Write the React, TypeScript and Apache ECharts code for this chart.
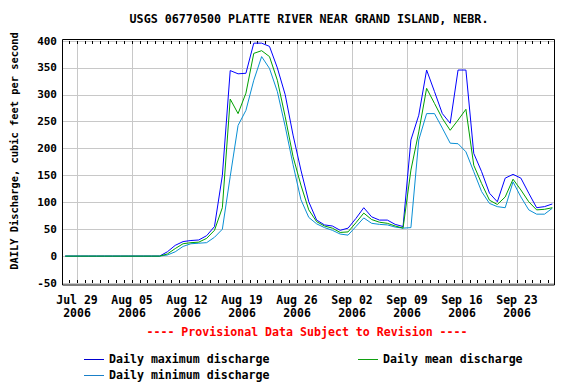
import React, { useEffect, useRef } from "react";
import * as echarts from "echarts";

// Daily values, Jul 27 2006 .. Sep 27 2006 (63 days), plotted at noon of each day.
const firstDayOffset = -2; // Jul 27 relative to Jul 29
const titleText = "USGS 06770500 PLATTE RIVER NEAR GRAND ISLAND, NEBR.";
const yAxisName = "DAILY Discharge, cubic feet per second";
const provisionalText = "---- Provisional Data Subject to Revision ----";

const maxDischarge = [
  0, 0, 0, 0, 0, 0, 0, 0, 0, 0, 0, 0, 0,
  8, 20, 27, 29, 30, 38, 55, 150, 345, 339, 340, 396, 396, 390, 350, 300, 225, 160, 101, 67, 58, 56, 48,
  52, 70, 90, 73, 67, 67, 59, 55, 216, 262, 346, 306, 265, 247, 346, 346, 191, 157, 117, 101, 145, 152, 145, 117, 90, 92, 97,
];
const meanDischarge = [
  0, 0, 0, 0, 0, 0, 0, 0, 0, 0, 0, 0, 0,
  4, 14, 23, 25, 26, 33, 48, 90, 292, 265, 303, 377, 382, 371, 327, 259, 185, 132, 86, 64, 56, 52, 44,
  45, 62, 80, 68, 63, 61, 56, 52, 160, 231, 312, 284, 256, 234, 253, 273, 169, 135, 104, 96, 110, 143, 123, 101, 86, 87, 90,
];
const minDischarge = [
  0, 0, 0, 0, 0, 0, 0, 0, 0, 0, 0, 0, 0,
  2, 8, 18, 23, 24, 25, 35, 50, 148, 243, 271, 327, 371, 349, 306, 241, 170, 105, 72, 60, 53, 48, 41,
  39, 55, 71, 61, 59, 58, 54, 52, 53, 216, 265, 265, 238, 210, 209, 194, 157, 120, 98, 92, 90, 138, 110, 86, 78, 78, 89,
];

const xTickDays = [0, 7, 14, 21, 28, 35, 42, 49, 56];
const xTickLabels = [
  "Jul 29\n2006", "Aug 05\n2006", "Aug 12\n2006", "Aug 19\n2006", "Aug 26\n2006",
  "Sep 02\n2006", "Sep 09\n2006", "Sep 16\n2006", "Sep 23\n2006",
];
const dailyTickDays = Array.from({ length: 62 }, (_, i) => i - 1);

const seriesNames = ["Daily maximum discharge", "Daily mean discharge", "Daily minimum discharge"];
const seriesColors = ["#0000ff", "#00a000", "#0a8fd4"];
const legendColors = ["#0000d0", "#10a010", "#1a80c8"];

const FONT = "DejaVu Sans Mono";

export default function App() {
  const ref = useRef<HTMLDivElement>(null);
  useEffect(() => {
    if (!ref.current) return;
    const chart = echarts.init(ref.current, null, { renderer: "svg" });
    const toPts = (arr: number[]) => arr.map((v, i) => [i + firstDayOffset + 0.5, v]);
    const xMin = -1.91;
    const xMax = 60.84;
    const hiddenAxisBase = {
      type: "value" as const,
      min: xMin,
      max: xMax,
      axisLine: { show: false },
      axisLabel: { show: false },
      splitLine: { show: false },
      axisTick: {
        show: true,
        inside: true,
        length: 3,
        customValues: dailyTickDays,
        lineStyle: { color: "#000", width: 1 },
      },
    };
    chart.setOption({
      animation: false,
      backgroundColor: "#ffffff",
      grid: { left: 62, right: 21, top: 41, bottom: 101 },
      xAxis: [
        {
          type: "value",
          min: xMin,
          max: xMax,
          position: "bottom",
          axisLine: { show: false },
          axisTick: { show: false, customValues: xTickDays },
          axisLabel: {
            customValues: xTickDays,
            formatter: (v: number) => xTickLabels[xTickDays.indexOf(Math.round(v))] ?? "",
            fontFamily: FONT,
            fontWeight: "bold",
            fontSize: 11.5,
            lineHeight: 13,
            color: "#000",
            margin: 10,
          },
          splitLine: { show: true, lineStyle: { color: "#c8c8c8", width: 1 } },
        },
        { ...hiddenAxisBase, position: "bottom" },
        { ...hiddenAxisBase, position: "top" },
      ],
      yAxis: {
        type: "value",
        min: -50,
        max: 400,
        interval: 50,
        axisLine: { show: false },
        axisTick: { show: false },
        axisLabel: {
          fontFamily: FONT,
          fontWeight: "bold",
          fontSize: 11,
          color: "#000",
          margin: 5,
        },
        splitLine: { show: true, lineStyle: { color: "#c8c8c8", width: 1 } },
      },
      series: [maxDischarge, meanDischarge, minDischarge].map((arr, k) => ({
        name: seriesNames[k],
        type: "line",
        data: toPts(arr),
        showSymbol: false,
        symbol: "none",
        lineStyle: { color: seriesColors[k], width: 1 },
        itemStyle: { color: seriesColors[k] },
        z: 3 + (k === 1 ? 1 : 0),
      })),
      graphic: [
        {
          type: "rect",
          shape: { x: 62.5, y: 39.5, width: 492, height: 245.5 },
          style: { fill: "none", stroke: "#000", lineWidth: 1 },
          z: 100,
        },
        {
          type: "text",
          x: 309,
          y: 19,
          style: {
            text: titleText,
            fontFamily: FONT,
            fontWeight: "bold",
            fontSize: 11.7,
            fill: "#000",
            align: "center",
            verticalAlign: "middle",
          },
        },
        {
          type: "text",
          x: 14,
          y: 151,
          rotation: Math.PI / 2,
          style: {
            text: yAxisName,
            fontFamily: FONT,
            fontWeight: "bold",
            fontSize: 10.4,
            fill: "#000",
            align: "center",
            verticalAlign: "middle",
          },
        },
        {
          type: "text",
          x: 307,
          y: 332,
          style: {
            text: provisionalText,
            fontFamily: FONT,
            fontWeight: "bold",
            fontSize: 11.6,
            fill: "#ff0000",
            align: "center",
            verticalAlign: "middle",
          },
        },
        ...[
          { x: 84, y: 359, k: 0 },
          { x: 358, y: 359, k: 1 },
          { x: 84, y: 375, k: 2 },
        ].flatMap(({ x, y, k }) => [
          {
            type: "line",
            shape: { x1: x, y1: y + 0.5, x2: x + 20, y2: y + 0.5 },
            style: { stroke: legendColors[k], lineWidth: 1 },
          },
          {
            type: "text",
            x: x + 25,
            y,
            style: {
              text: seriesNames[k],
              fontFamily: FONT,
              fontWeight: "bold",
              fontSize: 11.6,
              fill: "#000",
              align: "left",
              verticalAlign: "middle",
            },
          },
        ]),
      ],
    });
    return () => chart.dispose();
  }, []);
  return (
    <div
      ref={ref}
      style={{ position: "fixed", left: 0, top: 0, width: 576, height: 384, background: "#fff" }}
    />
  );
}
